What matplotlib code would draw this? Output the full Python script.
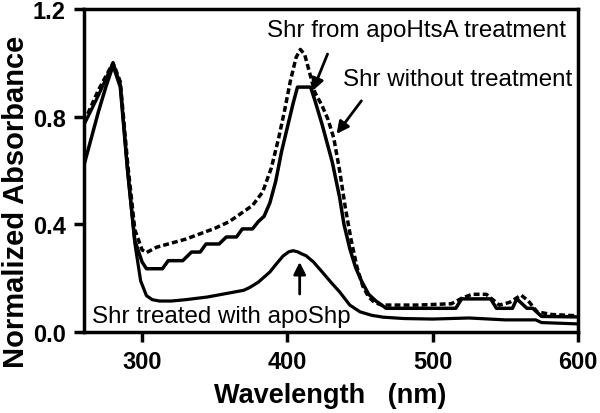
import matplotlib
matplotlib.use('Agg')
import matplotlib.pyplot as plt

plt.rcParams['font.family'] = ['Liberation Sans', 'DejaVu Sans']

# Shr from apoHtsA treatment (dashed)
w_htsa = [260, 265, 270, 275, 280, 285, 290, 295, 300, 303, 310, 320, 330, 340, 350, 360, 368,
          376, 383, 389, 394, 398, 402, 406, 409, 412, 415, 419, 424, 428, 432, 436, 440, 444,
          448, 452, 456, 460, 465, 470, 490, 513, 520, 527, 537, 546, 553, 561, 566, 572, 582, 600]
a_htsa = [0.78, 0.84, 0.90, 0.95, 1.0, 0.93, 0.63, 0.38, 0.305, 0.295, 0.315, 0.33, 0.345, 0.365,
          0.385, 0.41, 0.44, 0.47, 0.52, 0.61, 0.72, 0.82, 0.93, 1.02, 1.05, 1.03, 0.97, 0.89,
          0.84, 0.79, 0.72, 0.60, 0.46, 0.34, 0.24, 0.17, 0.13, 0.11, 0.10, 0.10, 0.10, 0.105,
          0.125, 0.14, 0.14, 0.10, 0.11, 0.137, 0.115, 0.075, 0.065, 0.06]

# Shr without treatment (solid)
w_none = [260, 265, 270, 275, 280, 285, 290, 295, 300, 303, 314, 318, 328, 334, 340, 344, 353,
          358, 365, 369, 376, 380, 384, 388, 392, 396, 400, 404, 407, 416, 419, 424, 431, 436,
          439, 443, 447, 451, 456, 461, 465, 468, 516, 520, 540, 544, 555, 558, 565, 569, 575, 600]
a_none = [0.62, 0.72, 0.82, 0.91, 0.99, 0.91, 0.60, 0.34, 0.26, 0.235, 0.235, 0.265, 0.265, 0.297,
          0.297, 0.327, 0.327, 0.353, 0.353, 0.383, 0.383, 0.41, 0.43, 0.48, 0.56, 0.67, 0.76,
          0.85, 0.91, 0.91, 0.86, 0.77, 0.63, 0.50, 0.40, 0.31, 0.24, 0.19, 0.14, 0.115, 0.10,
          0.088, 0.088, 0.123, 0.123, 0.088, 0.088, 0.123, 0.088, 0.088, 0.058, 0.056]

# Shr treated with apoShp (solid)
w_shp = [260, 270, 280, 285, 290, 295, 299, 303, 307, 312, 320, 330, 345, 360, 370, 374, 380,
         388, 392, 397, 401, 404, 407, 410, 413, 418, 424, 430, 436, 443, 450, 458, 466, 480,
         500, 525, 550, 571, 575, 600]
a_shp = [0.77, 0.88, 1.0, 0.92, 0.60, 0.33, 0.19, 0.135, 0.12, 0.115, 0.115, 0.12, 0.13, 0.145,
         0.155, 0.165, 0.185, 0.223, 0.25, 0.282, 0.298, 0.302, 0.298, 0.29, 0.283, 0.26,
         0.223, 0.185, 0.149, 0.10, 0.075, 0.062, 0.055, 0.05, 0.048, 0.052, 0.045, 0.045,
         0.035, 0.03]

fig = plt.figure(figsize=(6, 4.14), dpi=100)
ax = fig.add_axes([0.14, 0.1957, 0.823, 0.78])

ax.plot(w_none, a_none, color='k', lw=2.5)
ax.plot(w_shp, a_shp, color='k', lw=2.3)
ax.plot(w_htsa, a_htsa, color='k', lw=2.5, linestyle=(0, (1.7, 0.9)))

ax.set_xlim(260, 600)
ax.set_ylim(0, 1.2)
ax.set_xticks([300, 400, 500, 600])
ax.set_yticks([0.0, 0.4, 0.8, 1.2])
ax.set_yticklabels(['0.0', '0.4', '0.8', '1.2'])
for s in ax.spines.values():
    s.set_linewidth(2.5)
ax.tick_params(direction='out', length=7, width=2.5, labelsize=17, pad=6)
for lab in ax.get_xticklabels() + ax.get_yticklabels():
    lab.set_fontweight('bold')

ax.set_xlabel('Wavelength   (nm)', fontsize=19.5, fontweight='bold')
ax.set_ylabel('Normalized Absorbance', fontsize=21, fontweight='bold')
ax.xaxis.set_label_coords(0.498, -0.155)
ax.yaxis.set_label_coords(-0.11, 0.407)

# labels and arrows
ax.text(385.8, 1.123, 'Shr from apoHtsA treatment', fontsize=17.4, va='center', ha='left')
ax.text(438, 0.94, 'Shr without treatment', fontsize=17.4, va='center', ha='left')
ax.text(265.5, 0.06, 'Shr treated with apoShp', fontsize=17.4, va='center', ha='left')

arrow = dict(arrowstyle='-|>', color='k', lw=2, mutation_scale=18, shrinkA=0, shrinkB=0)
ax.annotate('', xy=(417.4, 0.896), xytext=(427.7, 1.033), arrowprops=arrow)
ax.annotate('', xy=(433.9, 0.736), xytext=(451, 0.859), arrowprops=arrow)
ax.annotate('', xy=(408.5, 0.26), xytext=(408.5, 0.141), arrowprops=arrow)

fig.savefig('out.png', dpi=100)
